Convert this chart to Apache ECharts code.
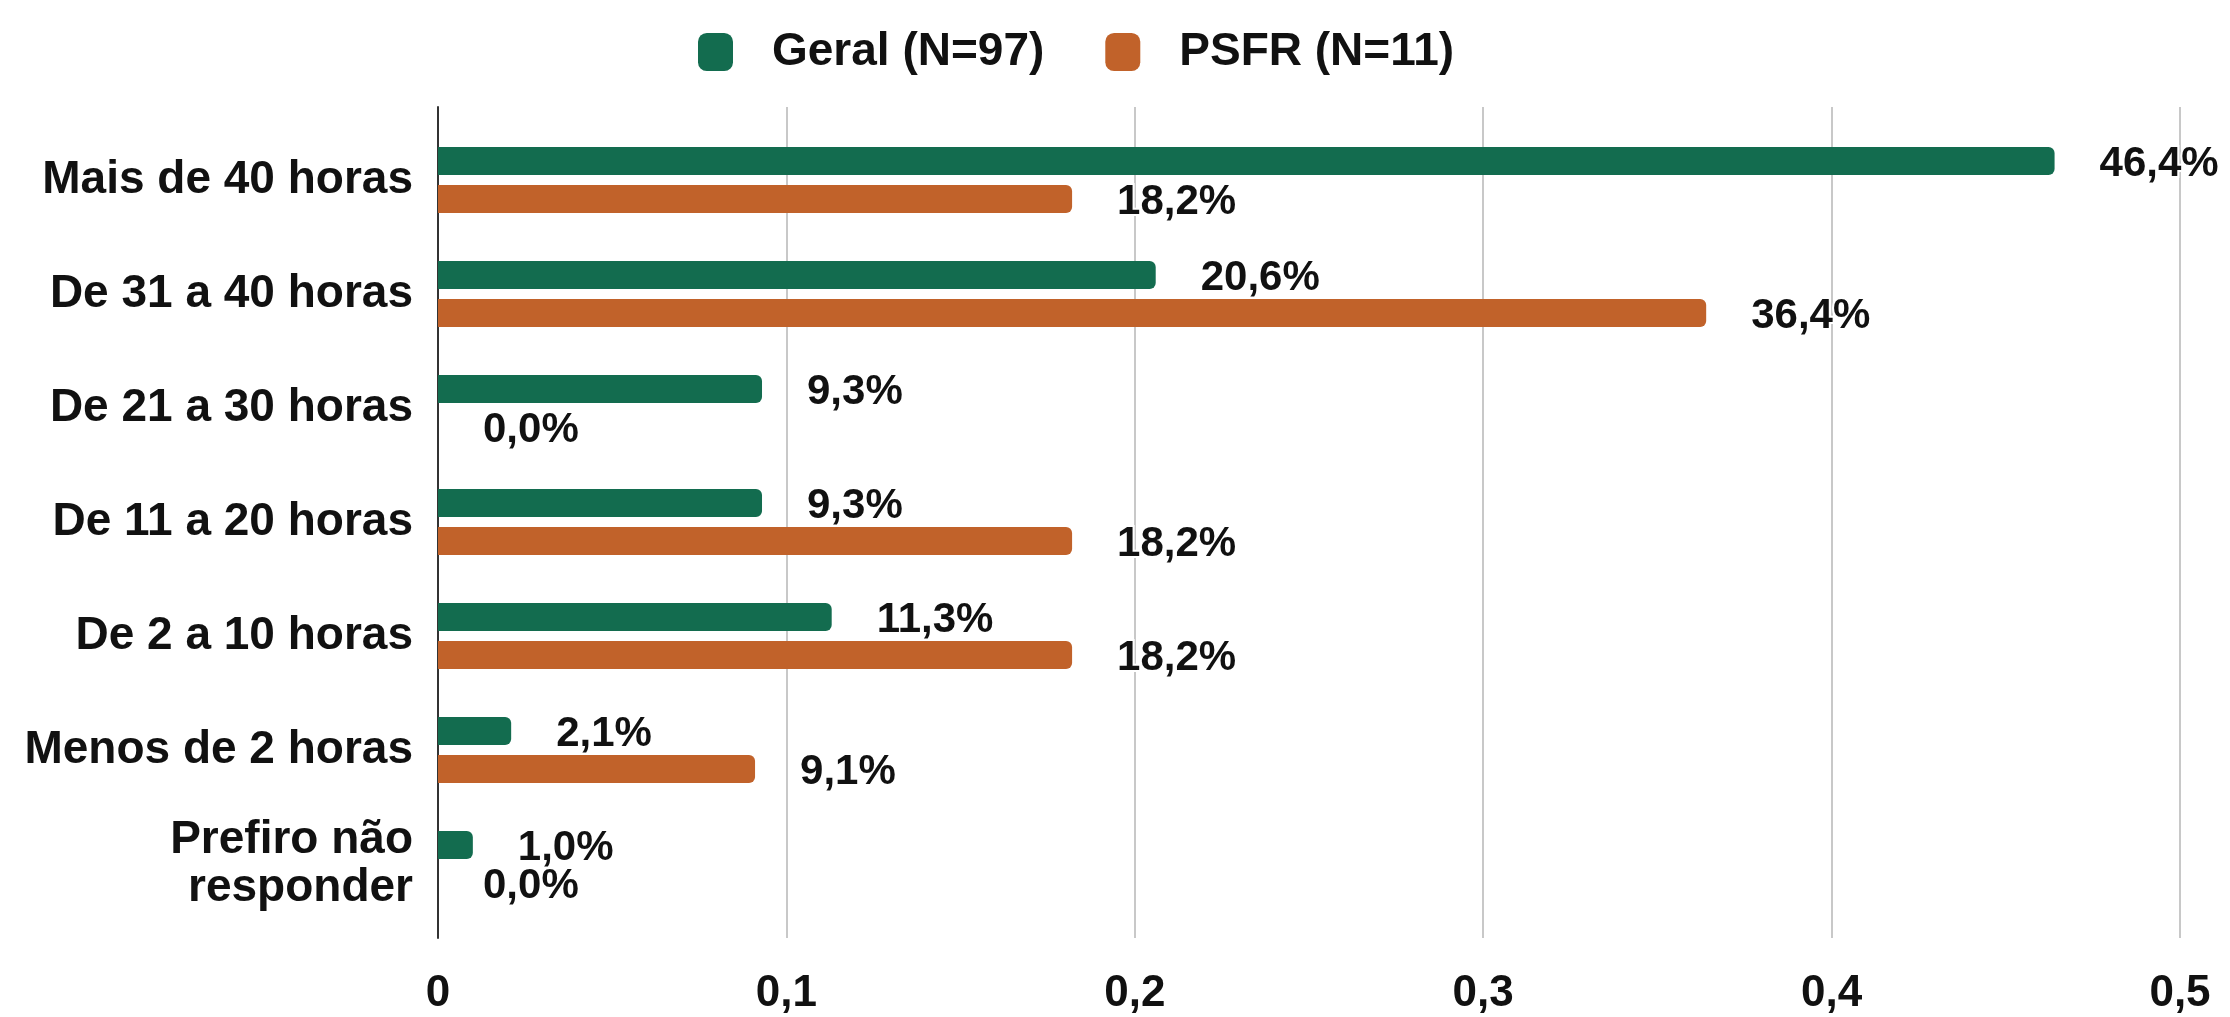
<!DOCTYPE html>
<html>
<head>
<meta charset="utf-8">
<script src="https://cdn.jsdelivr.net/npm/echarts@6/dist/echarts.min.js"></script>
<style>
  html, body { margin: 0; padding: 0; background: #fff; }
  #chart { width: 2230px; height: 1017px; }
</style>
</head>
<body>
<div id="chart"></div>
<script>
// horas por semana - Geral x PSFR
var categorias = ['Mais de 40 horas', 'De 31 a 40 horas', 'De 21 a 30 horas', 'De 11 a 20 horas',
    'De 2 a 10 horas', 'Menos de 2 horas', 'Prefiro não\nresponder'];
var geral = [0.464, 0.206, 0.093, 0.093, 0.113, 0.021, 0.010];
var psfr = [0.182, 0.364, 0.000, 0.182, 0.182, 0.091, 0.000];
var nomes = ['Geral (N=97)', 'PSFR (N=11)'];
var cores = ['#136c4f', '#c1622a'];

var fonte = '"Liberation Sans", Arial, sans-serif';

function pct (v) {
    return (v * 100).toFixed(1).replace('.', ',') + '%';
}

function serie (nome, dados, cor) {
    return {
        name: nome,
        type: 'bar',
        xAxisIndex: 0,
        yAxisIndex: 0,
        data: dados,
        barWidth: 28,
        barGap: '36%',
        itemStyle: { color: cor, borderRadius: [0, 6, 6, 0] },
        label: {
            show: true,
            position: 'right',
            distance: 45,
            offset: [0, 3],
            color: '#111',
            fontFamily: fonte,
            fontWeight: 'bold',
            fontSize: 42,
            textBorderColor: '#fff',
            textBorderWidth: 4,
            formatter: function (p) { return pct(p.value); }
        }
    };
}

var option = {
    animation: false,
    backgroundColor: '#fff',
    legend: {
        left: 693,
        top: 24,
        itemWidth: 35,
        itemHeight: 38,
        itemGap: 61,
        icon: 'roundRect',
        data: nomes,
        textStyle: {
            fontFamily: fonte,
            fontWeight: 'bold',
            fontSize: 46,
            color: '#111',
            padding: [0, 0, 0, 34]
        }
    },
    grid: [
        { left: 438, right: 50, top: 123, bottom: 96 },   // barras
        { left: 438, right: 50, top: 107, bottom: 79 }    // linhas de grade
    ],
    xAxis: [
        { gridIndex: 0, type: 'value', min: 0, max: 0.5, interval: 0.1, show: false },
        {
            gridIndex: 1, type: 'value', min: 0, max: 0.5, interval: 0.1,
            axisLine: { show: false },
            axisTick: { show: false },
            splitLine: { show: true, lineStyle: { color: '#c8c8c8', width: 2 } },
            axisLabel: {
                margin: 34,
                color: '#111',
                fontFamily: fonte,
                fontWeight: 'bold',
                fontSize: 44,
                formatter: function (v) { return v === 0 ? '0' : String(+v.toFixed(1)).replace('.', ','); }
            }
        }
    ],
    yAxis: [
        {
            gridIndex: 0,
            type: 'category',
            inverse: true,
            data: categorias,
            axisLine: { show: false },
            axisTick: { show: false },
            axisLabel: {
                margin: 25,
                color: '#111',
                fontFamily: fonte,
                fontWeight: 'bold',
                fontSize: 46,
                lineHeight: 48
            }
        },
        {
            gridIndex: 1,
            type: 'value',
            min: 0,
            max: 1,
            axisLine: { show: true, lineStyle: { color: '#333', width: 2 } },
            axisTick: { show: false },
            axisLabel: { show: false },
            splitLine: { show: false }
        }
    ],
    series: [
        serie(nomes[0], geral, cores[0]),
        serie(nomes[1], psfr, cores[1])
    ]
};

var myChart = echarts.init(document.getElementById('chart'));
myChart.setOption(option);
window.addEventListener('resize', function () {
    myChart.resize();
});
</script>
</body>
</html>
